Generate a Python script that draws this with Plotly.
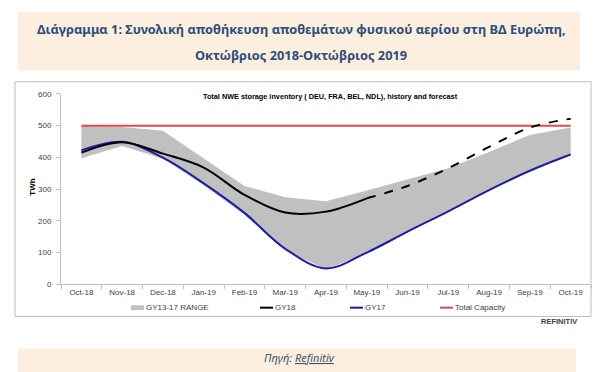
import plotly.graph_objects as go

months = ["Oct-18", "Nov-18", "Dec-18", "Jan-19", "Feb-19", "Mar-19", "Apr-19",
          "May-19", "Jun-19", "Jul-19", "Aug-19", "Sep-19", "Oct-19"]
range_upper = [500, 496, 484, 396, 310, 274, 262, 296, 332, 366, 417, 471, 494]
range_lower = [397, 436, 396, 312, 218, 106, 47, 97, 164, 231, 298, 359, 407]
gy18_hist_months = months[:8]
gy18_hist = [415, 448, 412, 368, 282, 226, 229, 271]
gy18_fc_months = months[7:]
gy18_fc = [271, 310, 366, 433, 494, 522]
gy17 = [422, 449, 399, 318, 225, 112, 50, 100, 166, 230, 297, 358, 409]
capacity = [500] * len(months)
y_ticks = [0, 100, 200, 300, 400, 500, 600]

W, H = 605, 372
def px(x):
    return x / W
def py(y):
    return 1 - y / H

AX_FONT = dict(family="Liberation Sans, Arial", size=8, color="#404040")

fig = go.Figure()
fig.add_trace(go.Scatter(x=months, y=range_lower, mode="lines", line=dict(width=0, color="#c0c0c0"),
                         showlegend=False, hoverinfo="skip"))
fig.add_trace(go.Scatter(x=months, y=range_upper, mode="lines", line=dict(width=0, color="#c0c0c0"),
                         fill="tonexty", fillcolor="#c0c0c0", name="GY13-17 RANGE", showlegend=False))
fig.add_trace(go.Scatter(x=months, y=capacity, mode="lines", line=dict(width=2, color="#e8474c"),
                         name="Total Capacity", showlegend=False))
fig.add_trace(go.Scatter(x=months, y=gy17, mode="lines", line=dict(width=2, color="#1c1ca8", shape="spline", smoothing=1),
                         name="GY17", showlegend=False))
fig.add_trace(go.Scatter(x=gy18_hist_months, y=gy18_hist, mode="lines",
                         line=dict(width=2, color="#000000", shape="spline", smoothing=1),
                         name="GY18", showlegend=False))
fig.add_trace(go.Scatter(x=gy18_fc_months, y=gy18_fc, mode="lines",
                         line=dict(width=2, color="#000000", dash="dash", shape="spline", smoothing=1),
                         name="GY18 forecast", showlegend=False))

shapes = [
    # top beige title box
    dict(type="rect", xref="paper", yref="paper", x0=px(10), x1=px(572), y0=py(60), y1=py(0),
         fillcolor="#fcefe0", line=dict(width=0), layer="below"),
    # chart frame
    dict(type="rect", xref="paper", yref="paper", x0=px(7), x1=px(583), y0=py(312), y1=py(71.5),
         fillcolor="#ffffff", line=dict(width=1, color="#bfbfbf"), layer="below"),
    # bottom beige box
    dict(type="rect", xref="paper", yref="paper", x0=px(10), x1=px(568), y0=py(372), y1=py(345),
         fillcolor="#fcefe0", line=dict(width=0), layer="below"),
]

annotations = [
    dict(text="<b>Διάγραμμα 1: Συνολική αποθήκευση αποθεμάτων φυσικού αερίου στη ΒΔ Ευρώπη,</b>",
         x=px(293), y=py(17), xref="paper", yref="paper", showarrow=False,
         font=dict(family="Noto Sans", size=12.8, color="#2e4d7b"), xanchor="center", yanchor="middle"),
    dict(text="<b>Οκτώβριος 2018-Οκτώβριος 2019</b>",
         x=px(293), y=py(44), xref="paper", yref="paper", showarrow=False,
         font=dict(family="Noto Sans", size=12.8, color="#2e4d7b"), xanchor="center", yanchor="middle"),
    dict(text="<b>Total NWE storage inventory ( DEU, FRA, BEL, NDL), history and forecast</b>",
         x=px(322), y=py(87), xref="paper", yref="paper", showarrow=False,
         font=dict(family="Liberation Sans, Arial", size=7.3, color="#000000"), xanchor="center", yanchor="middle"),
    dict(text="<b>TWh</b>", textangle=-90,
         x=px(25), y=py(180), xref="paper", yref="paper", showarrow=False,
         font=dict(family="Liberation Sans, Arial", size=8, color="#000000"), xanchor="center", yanchor="middle"),
    dict(text="<b>REFINITIV</b>",
         x=px(551), y=py(317), xref="paper", yref="paper", showarrow=False,
         font=dict(family="Liberation Sans, Arial", size=7.5, color="#404040"), xanchor="center", yanchor="middle"),
    dict(text="<i>Πηγή: <span style='text-decoration:underline wavy #d04040'>Refinitiv</span></i>",
         x=px(291), y=py(354), xref="paper", yref="paper", showarrow=False,
         font=dict(family="Noto Sans", size=11, color="#44546a"), xanchor="center", yanchor="middle"),
]

# manual legend
legend_items = [
    ("GY13-17 RANGE", 123, "rect", "#c0c0c0"),
    ("GY18", 252, "line", "#000000"),
    ("GY17", 342, "line", "#1c1ca8"),
    ("Total Capacity", 432, "line", "#e8474c"),
]
ly = 303
for label, x0, kind, col in legend_items:
    if kind == "rect":
        shapes.append(dict(type="rect", xref="paper", yref="paper", x0=px(x0), x1=px(x0 + 13),
                           y0=py(ly + 2.5), y1=py(ly - 2.5), fillcolor=col, line=dict(width=0)))
    else:
        shapes.append(dict(type="line", xref="paper", yref="paper", x0=px(x0), x1=px(x0 + 13),
                           y0=py(ly), y1=py(ly), line=dict(color=col, width=2)))
    annotations.append(dict(text=label, x=px(x0 + 13), y=py(ly), xref="paper", yref="paper",
                            showarrow=False, xanchor="left", yanchor="middle",
                            font=AX_FONT))

fig.update_layout(
    width=W, height=H,
    margin=dict(l=0, r=0, t=0, b=0),
    paper_bgcolor="#ffffff",
    plot_bgcolor="rgba(0,0,0,0)",
    shapes=shapes,
    annotations=annotations,
    showlegend=False,
    xaxis=dict(domain=[px(53), px(583)], type="category", categoryorder="array", categoryarray=months,
               range=[-0.5, 12.5], showgrid=False, zeroline=False, showline=True, linecolor="#bfbfbf",
               linewidth=1, ticks="outside", tickson="boundaries", ticklen=4, tickcolor="#bfbfbf",
               tickfont=AX_FONT),
    yaxis=dict(domain=[py(279), py(84)], range=[0, 600], tickvals=y_ticks, showgrid=False, zeroline=False,
               showline=True, linecolor="#bfbfbf", linewidth=1, ticks="outside", ticklen=4,
               tickcolor="#bfbfbf", tickfont=AX_FONT, ticklabelstandoff=3),
)

fig.write_html("out.html")
